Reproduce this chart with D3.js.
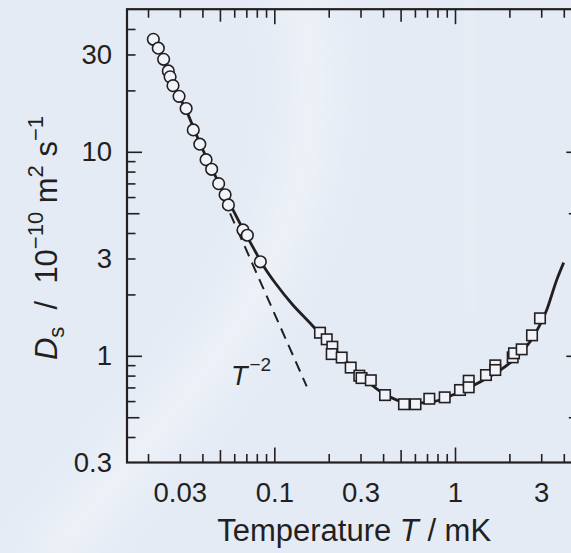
<!DOCTYPE html>
<html>
<head>
<meta charset="utf-8">
<script src="https://cdn.jsdelivr.net/npm/d3@7"></script>
<style>
  html, body { margin: 0; padding: 0; background: #e5ecf6; }
  svg { display: block; font-family: "Liberation Sans", Arial, Helvetica, sans-serif; }
</style>
</head>
<body>
<svg id="chart" width="571" height="553"></svg>
<script>
// measured points (T in mK, Ds in 1e-10 m^2/s)
const circleT = [0.0214, 0.0228, 0.0244, 0.0259, 0.0265, 0.0275, 0.0297, 0.0325, 0.0356, 0.0387,
                 0.0419, 0.0450, 0.0492, 0.0534, 0.0557, 0.0671, 0.0709, 0.0837];
const circleD = [35.6, 32.2, 28.4, 24.9, 23.3, 21.1, 18.7, 16.3, 12.8, 10.9,
                 9.15, 8.21, 6.98, 6.16, 5.49, 4.14, 3.90, 2.89];

const squareT = [0.179, 0.195, 0.2094, 0.2078, 0.236, 0.2647, 0.2954, 0.3039, 0.342, 0.410,
                 0.522, 0.6045, 0.7209, 0.877, 1.066, 1.191, 1.191, 1.484, 1.671, 1.671,
                 2.086, 2.121, 2.339, 2.668, 2.954];
const squareD = [1.298, 1.205, 1.108, 1.020, 0.981, 0.876, 0.799, 0.778, 0.759, 0.642,
                 0.579, 0.579, 0.616, 0.626, 0.680, 0.755, 0.701, 0.805, 0.898, 0.852,
                 0.983, 1.029, 1.076, 1.260, 1.527];

// fitted curve
const curveT = [0.0214, 0.0244, 0.0275, 0.0325, 0.0387, 0.0450, 0.0534, 0.0671, 0.0760, 0.0880,
                0.1022, 0.1253, 0.1576, 0.2033, 0.2624, 0.4011, 0.5636, 0.7585, 1.066, 1.497,
                2.102, 2.713, 3.217, 3.654, 3.996];
const curveD = [35.6, 28.4, 21.5, 16.0, 11.05, 8.28, 6.18, 4.18, 3.42, 2.72,
                2.249, 1.795, 1.448, 1.130, 0.901, 0.655, 0.584, 0.596, 0.667, 0.776,
                0.954, 1.241, 1.677, 2.353, 2.863];

// T^-2 guide line
const slopeT = [0.0569, 0.1511];
const slopeD = [4.996, 0.708];

const xTickLabels = [0.03, 0.1, 0.3, 1, 3];
const yTickLabels = [0.3, 1, 3, 10, 30];
const xMajor = [0.1, 1];
const xMid = [0.05, 0.5, 5];
const xMinor = [0.02, 0.03, 0.04, 0.06, 0.07, 0.08, 0.09, 0.2, 0.3, 0.4, 0.6, 0.7, 0.8, 0.9, 2, 3, 4];
const yMajor = [1, 10];
const yMid = [0.5, 5];
const yMinor = [0.4, 0.6, 0.7, 0.8, 0.9, 2, 3, 4, 6, 7, 8, 9, 20, 30, 40];

const ink = "#231f20";
const svg = d3.select("#chart");
const W = 571, H = 553;
const m = { left: 127, top: 9.2, right: 581.3, bottom: 462.5 };

// background
const defs = svg.append("defs");
defs.append("filter").attr("id", "blur").attr("x", "-50%").attr("y", "-50%").attr("width", "200%").attr("height", "200%")
  .append("feGaussianBlur").attr("stdDeviation", 22);
svg.append("rect").attr("width", W).attr("height", H).attr("fill", "#e4ebf5");
svg.append("path")
  .attr("d", "M300,-20 C330,120 300,220 240,320 C190,400 120,470 40,570")
  .attr("fill", "none").attr("stroke", "#f4f6fa").attr("stroke-width", 40)
  .attr("opacity", 0.75).attr("filter", "url(#blur)");
svg.append("path")
  .attr("d", "M470,-20 C480,100 460,200 470,300")
  .attr("fill", "none").attr("stroke", "#eef2f8").attr("stroke-width", 30)
  .attr("opacity", 0.6).attr("filter", "url(#blur)");

const x = d3.scaleLog().domain([0.0153, 5]).range([m.left, m.right]);
const y = d3.scaleLog().domain([0.3, 50]).range([m.bottom, m.top]);

// ticks (inward) on all four sides
function tickSet(vals, len) {
  const g = svg.append("g").attr("class", "ticks");
  g.append("g").attr("transform", `translate(0,${m.bottom})`)
    .call(d3.axisBottom(x).tickValues(vals).tickSize(-len).tickSizeOuter(0).tickFormat(""));
  g.append("g").attr("transform", `translate(0,${m.top})`)
    .call(d3.axisTop(x).tickValues(vals).tickSize(-len).tickSizeOuter(0).tickFormat(""));
  return g;
}
function tickSetY(vals, len) {
  const g = svg.append("g").attr("class", "ticks");
  g.append("g").attr("transform", `translate(${m.left},0)`)
    .call(d3.axisLeft(y).tickValues(vals).tickSize(-len).tickSizeOuter(0).tickFormat(""));
  g.append("g").attr("transform", `translate(${m.right},0)`)
    .call(d3.axisRight(y).tickValues(vals).tickSize(-len).tickSizeOuter(0).tickFormat(""));
  return g;
}
tickSet(xMajor, 15); tickSet(xMid, 12.5); tickSet(xMinor, 8.5);
tickSetY(yMajor, 15); tickSetY(yMid, 12.5); tickSetY(yMinor, 8.5);
svg.selectAll(".ticks path.domain").remove();
svg.selectAll(".ticks line").attr("stroke", ink).attr("stroke-width", 1.6);

// frame
svg.append("rect")
  .attr("x", m.left).attr("y", m.top)
  .attr("width", m.right - m.left).attr("height", m.bottom - m.top)
  .attr("fill", "none").attr("stroke", ink).attr("stroke-width", 2.2);

// tick labels
const xl = svg.append("g").attr("transform", `translate(0,${m.bottom})`)
  .call(d3.axisBottom(x).tickValues(xTickLabels).tickSize(0).tickFormat(d3.format("")));
const yl = svg.append("g").attr("transform", `translate(${m.left},0)`)
  .call(d3.axisLeft(y).tickValues(yTickLabels).tickSize(0).tickPadding(15).tickFormat(d3.format("")));
[xl, yl].forEach(g => {
  g.select(".domain").remove();
  g.selectAll("text").attr("fill", ink).attr("font-size", 27.5).attr("font-family", "Liberation Sans, Arial, sans-serif");
});
xl.selectAll("text").attr("dy", 0).attr("y", 39);

// lines
const line = d3.line().x(d => x(d[0])).y(d => y(d[1]));
svg.append("path")
  .attr("d", line.curve(d3.curveMonotoneX)(d3.zip(curveT, curveD)))
  .attr("fill", "none").attr("stroke", ink).attr("stroke-width", 2.8);
svg.append("path")
  .attr("d", d3.line().x(d => x(d[0])).y(d => y(d[1]))(d3.zip(slopeT, slopeD)))
  .attr("fill", "none").attr("stroke", ink).attr("stroke-width", 2)
  .attr("stroke-dasharray", "11,7");

// markers
svg.append("g").selectAll("circle")
  .data(d3.zip(circleT, circleD)).join("circle")
  .attr("cx", d => x(d[0])).attr("cy", d => y(d[1])).attr("r", 5.8)
  .attr("fill", "#f0f4fa").attr("stroke", ink).attr("stroke-width", 1.6);
const s = 10.5;
svg.append("g").selectAll("rect")
  .data(d3.zip(squareT, squareD)).join("rect")
  .attr("x", d => x(d[0]) - s / 2).attr("y", d => y(d[1]) - s / 2)
  .attr("width", s).attr("height", s)
  .attr("fill", "#f0f4fa").attr("stroke", ink).attr("stroke-width", 1.6);

// T^-2 label
const tl = svg.append("text").attr("x", 231).attr("y", 385).attr("fill", ink).attr("font-size", 27);
tl.append("tspan").attr("font-style", "italic").text("T");
tl.append("tspan").attr("font-size", 19).attr("dy", -14).attr("dx", 2).text("\u22122");

// axis titles
const xt = svg.append("text").attr("x", (m.left + m.right) / 2).attr("y", 541).attr("text-anchor", "middle")
  .attr("fill", ink).attr("font-size", 31);
xt.append("tspan").text("Temperature ");
xt.append("tspan").attr("font-style", "italic").text("T");
xt.append("tspan").text("\u00a0/ mK");

const yt = svg.append("text").attr("transform", "translate(57,238) rotate(-90)")
  .attr("text-anchor", "middle").attr("fill", ink).attr("font-size", 31);
yt.append("tspan").attr("font-style", "italic").text("D");
yt.append("tspan").attr("font-size", 22).attr("dy", 7).text("s");
yt.append("tspan").attr("dy", -7).text("\u00a0\u00a0/\u00a0\u00a010");
yt.append("tspan").attr("font-size", 22).attr("dy", -14).text("\u221210");
yt.append("tspan").attr("dy", 14).text("\u00a0m");
yt.append("tspan").attr("font-size", 22).attr("dy", -14).text("2");
yt.append("tspan").attr("dy", 14).text("\u00a0s");
yt.append("tspan").attr("font-size", 22).attr("dy", -14).text("\u22121");
</script>
</body>
</html>
